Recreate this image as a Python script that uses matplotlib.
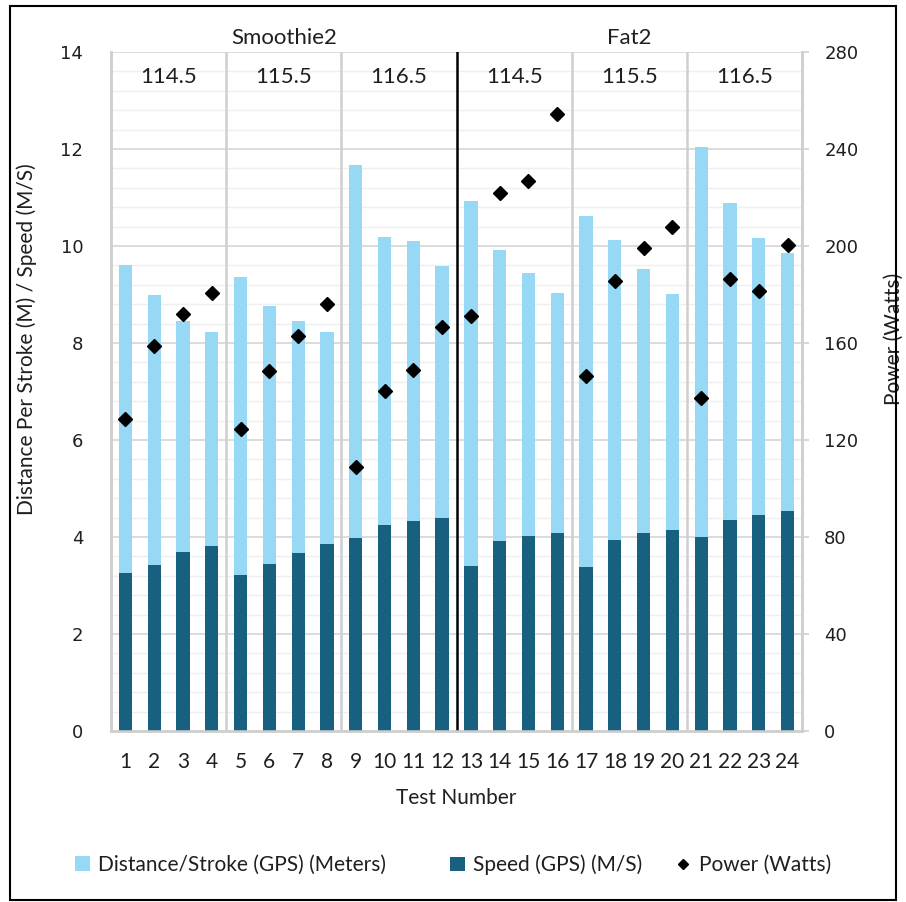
import matplotlib
matplotlib.use("Agg")
import matplotlib.pyplot as plt
import numpy as np
from matplotlib.lines import Line2D
from matplotlib.patches import Patch, Rectangle

tests = list(range(1, 25))
distance_per_stroke = [9.61, 8.98, 8.46, 8.23, 9.37, 8.77, 8.45, 8.23, 11.68, 10.19, 10.10, 9.59,
                       10.93, 9.92, 9.44, 9.03, 10.61, 10.12, 9.52, 9.02, 12.04, 10.88, 10.17, 9.86]
speed = [3.26, 3.42, 3.69, 3.81, 3.22, 3.44, 3.66, 3.86, 3.98, 4.25, 4.34, 4.39,
         3.40, 3.91, 4.03, 4.09, 3.39, 3.94, 4.08, 4.14, 4.01, 4.36, 4.46, 4.53]
power = [128.5, 158.9, 172.0, 180.5, 124.5, 148.5, 162.9, 176.0, 109.0, 140.1, 149.0, 166.5,
         171.1, 222.0, 226.8, 254.4, 146.4, 185.4, 199.0, 207.7, 137.2, 186.4, 181.3, 200.5]
boats = ["Smoothie2", "Fat2"]
weights = ["114.5", "115.5", "116.5", "114.5", "115.5", "116.5"]

LIGHT = "#97D9F5"
DARK = "#17607F"
TEXT = "#1f1f1f"
FONT = "Lato"

fig = plt.figure(figsize=(9.06, 9.02), dpi=100)
ax = fig.add_axes([111 / 906, 171 / 902, 691 / 906, 679 / 902])
ax2 = ax.twinx()

x = np.array(tests)
ax.bar(x, distance_per_stroke, width=0.46, color=LIGHT, zorder=2)
ax.bar(x, speed, width=0.46, color=DARK, zorder=3)
ax2.plot(x, power, linestyle="none", marker="D", markersize=6.8, color="black", zorder=4)

ax.set_xlim(0.5, 24.5)
ax.set_ylim(0, 14)
ax2.set_ylim(0, 280)

# grid
for v in np.arange(0.4, 14.01, 0.4):
    major = abs(v / 2 - round(v / 2)) < 1e-6
    ax.axhline(v, color="#d9d9d9" if major else "#efefef", linewidth=1.3 if major else 1.0, zorder=0)

# group separators
for sep in [4.5, 8.5, 12.5, 16.5, 20.5]:
    if sep == 12.5:
        ax.axvline(sep, color="black", linewidth=1.8, zorder=5)
    else:
        ax.axvline(sep, color="#cfcfcf", linewidth=1.8, zorder=1)

for a in (ax, ax2):
    a.spines["top"].set_visible(False)
    for side in ("left", "right", "bottom"):
        a.spines[side].set_color("#cfcfcf")
        a.spines[side].set_linewidth(1.8)

ax.set_xticks(x)
ax.set_xticklabels([str(t) for t in tests], fontfamily=FONT, fontsize=15, color=TEXT)
ax.tick_params(axis="x", length=0, pad=15)
ax.set_yticks(np.arange(0, 15, 2))
ax.set_yticklabels([str(v) for v in range(0, 15, 2)], fontfamily="DejaVu Sans", fontsize=13, color=TEXT)
ax.tick_params(axis="y", length=0, pad=20)
ax2.set_yticks(np.arange(0, 281, 40))
ax2.set_yticklabels([str(v) for v in range(0, 281, 40)], fontfamily="DejaVu Sans", fontsize=13, color=TEXT)
ax2.tick_params(axis="y", length=5, width=1.2, color="#cfcfcf", pad=11)

ax.set_xlabel("Test Number", fontfamily=FONT, fontsize=15, color=TEXT, labelpad=12)
ax.set_ylabel("Distance Per Stroke (M) / Speed (M/S)", fontfamily=FONT, fontsize=15, color=TEXT)
ax2.set_ylabel("Power (Watts)", fontfamily=FONT, fontsize=15, color=TEXT)
ax.yaxis.set_label_coords(-0.107, 0.577)
ax2.yaxis.set_label_coords(1.119, 0.577)

for i, w in enumerate(weights):
    ax.text(2.5 + 4 * i, 13.48, w, ha="center", va="center", fontfamily=FONT, fontsize=16, color=TEXT, zorder=6)
for i, b in enumerate(boats):
    ax.text(6.5 + 12 * i, 14.29, b, ha="center", va="center", fontfamily=FONT, fontsize=16,
            color=TEXT, clip_on=False)

handles = [
    Patch(facecolor=LIGHT, edgecolor="none", label="Distance/Stroke (GPS) (Meters)"),
    Patch(facecolor=DARK, edgecolor="none", label="Speed (GPS) (M/S)"),
    Line2D([], [], linestyle="none", marker="D", markersize=5, color="black", label="Power (Watts)"),
]
for handle, left in zip(handles, [75, 450, 676]):
    fig.legend(handles=[handle], loc="center left", bbox_to_anchor=(left / 906, 1 - 865 / 902),
               frameon=False, prop={"family": FONT, "size": 15}, handlelength=0.7, handleheight=0.7,
               handletextpad=0.4, borderpad=0, borderaxespad=0, labelcolor=TEXT)

fig.patches.append(Rectangle((10 / 906, 2 / 902), 886 / 906, 894 / 902, transform=fig.transFigure,
                             fill=False, edgecolor="black", linewidth=1.5))

fig.savefig("out.png", dpi=100)
